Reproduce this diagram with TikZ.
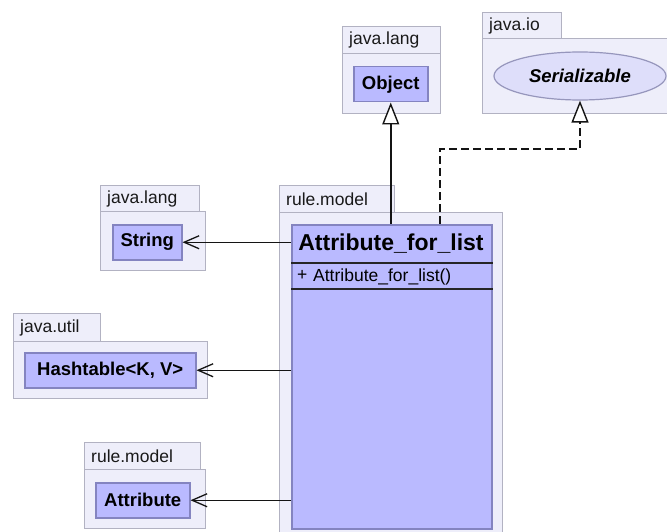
\documentclass[tikz,border=0pt]{standalone}
\usepackage{fontspec}
\setmainfont{Liberation Sans}
\usetikzlibrary{arrows.meta,shapes.geometric}

\definecolor{pkgfill}{RGB}{238,238,250}
\definecolor{pkgline}{RGB}{178,178,194}
\definecolor{clsfill}{RGB}{186,186,255}
\definecolor{clsline}{RGB}{132,132,192}
\definecolor{ifcfill}{RGB}{222,222,250}
\definecolor{ifcline}{RGB}{150,150,188}
\definecolor{wire}{RGB}{20,20,20}

\tikzset{
  pkg/.style={draw=pkgline, fill=pkgfill, line width=1.2pt, inner sep=0pt, anchor=north west},
  pkglabel/.style={anchor=west, inner sep=0pt, text=black!90,
    font=\fontsize{17.5}{20}\selectfont},
  cls/.style={draw=clsline, fill=clsfill, line width=1.5pt, inner sep=0pt, anchor=north west,
    font=\bfseries\fontsize{18.5}{22}\selectfont, text=black},
  member/.style={anchor=west, inner sep=0pt, text=black,
    font=\fontsize{17.5}{20}\selectfont},
  assoc/.style={draw=wire, line width=1.5pt, -{Straight Barb[length=15pt,width=13pt,line width=1.3pt]}},
  gen/.style={draw=wire, line width=1.5pt, -{Triangle[open,length=22pt,width=17pt,line width=1.4pt,fill=white]}},
  real/.style={gen, dash pattern=on 8pt off 4pt},
}

\begin{document}
\begin{tikzpicture}[x=1pt, y=-1pt]
\useasboundingbox (0,0) rectangle (667,532);

% ---- package java.lang (Object)
\node[pkg, minimum width=98pt, minimum height=60pt] (langA) at (342,53) {};
\node[pkg, minimum width=98pt, minimum height=27pt] (langAtab) at (342,26) {};
\node[pkglabel] (langAlbl) at ([xshift=7pt]langAtab.west) {java.lang};
\node[cls, minimum width=74pt, minimum height=35pt] (obj) at (353,66) {Object};

% ---- package java.io (Serializable)
\node[pkg, minimum width=186pt, minimum height=75pt] (io) at (482,38) {};
\node[pkg, minimum width=79pt, minimum height=26pt] (iotab) at (482,12) {};
\node[pkglabel] (iolbl) at ([xshift=7pt]iotab.west) {java.io};
\node[ellipse, draw=ifcline, fill=ifcfill, line width=1.2pt, inner sep=0pt,
      minimum width=172pt, minimum height=48pt, text=black,
      font=\bfseries\itshape\fontsize{18.5}{22}\selectfont] (ser) at (580,76) {Serializable};

% ---- package java.lang (String)
\node[pkg, minimum width=105pt, minimum height=59pt] (langB) at (100,211) {};
\node[pkg, minimum width=99pt, minimum height=26pt] (langBtab) at (100,185) {};
\node[pkglabel] (langBlbl) at ([xshift=7pt]langBtab.west) {java.lang};
\node[cls, minimum width=69pt, minimum height=35pt] (str) at (112,224) {String};

% ---- package rule.model (Attribute_for_list)
\node[pkg, minimum width=223pt, minimum height=330pt] (rmA) at (279,212) {};
\node[pkg, minimum width=115pt, minimum height=27pt] (rmAtab) at (279,185) {};
\node[pkglabel] (rmAlbl) at ([xshift=7pt]rmAtab.west) {rule.model};
\node[cls, minimum width=200pt, minimum height=304pt] (main) at (291,224) {};
\draw[draw=black!85, line width=1.5pt] (main.west |- 0,263) -- (main.east |- 0,263);
\draw[draw=black!85, line width=1.5pt] (main.west |- 0,289) -- (main.east |- 0,289);
\node[inner sep=0pt, text=black, font=\bfseries\fontsize{23}{26}\selectfont]
  (mainname) at (391,244) {Attribute\_for\_list};
\node[member] (vis) at (297,275) {+};
\node[member] (ctor) at (313,277) {Attribute\_for\_list()};

% ---- package java.util (Hashtable)
\node[pkg, minimum width=194pt, minimum height=57pt] (util) at (13,341) {};
\node[pkg, minimum width=87pt, minimum height=28pt] (utiltab) at (13,313) {};
\node[pkglabel] (utillbl) at ([xshift=7pt]utiltab.west) {java.util};
\node[cls, minimum width=171pt, minimum height=35pt] (hash) at (24,352) {Hashtable<K, V>};

% ---- package rule.model (Attribute)
\node[pkg, minimum width=121pt, minimum height=59pt] (rmB) at (84,469) {};
\node[pkg, minimum width=116pt, minimum height=27pt] (rmBtab) at (84,442) {};
\node[pkglabel] (rmBlbl) at ([xshift=7pt]rmBtab.west) {rule.model};
\node[cls, minimum width=94pt, minimum height=35pt] (attr) at (95,482) {Attribute};

% ---- relations
\draw[gen] (obj.south |- main.north) -- (obj.south);
\coordinate (bend) at (440,149);
\draw[real] (bend |- main.north) -- (bend) -| (ser.south);
\draw[assoc] (str.east -| main.west) -- (str.east);
\draw[assoc] (hash.east -| main.west) -- (hash.east);
\draw[assoc] (attr.east -| main.west) -- (attr.east);
\end{tikzpicture}
\end{document}
